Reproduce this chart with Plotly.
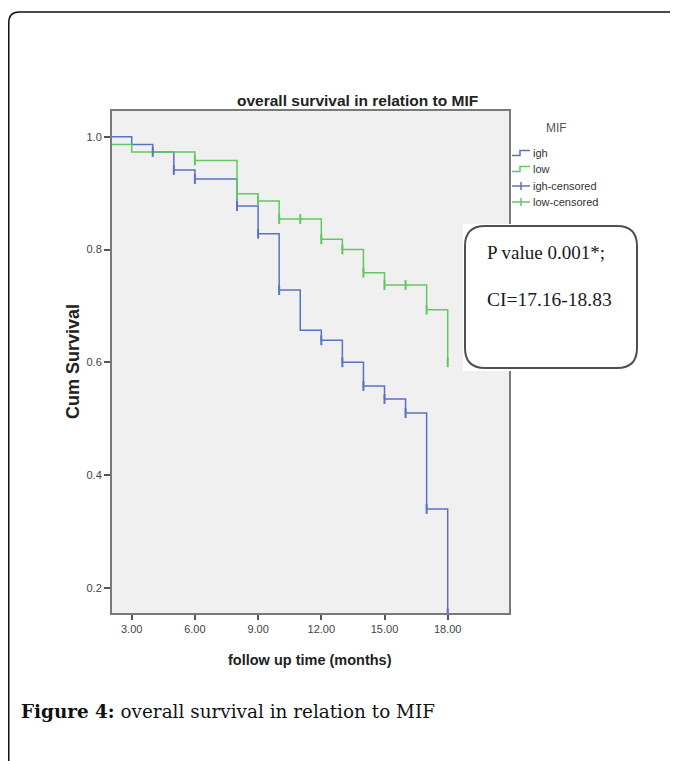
import plotly.graph_objects as go

# ---- data ----
high_time = [2.0, 3, 4, 5, 6, 8, 9, 10, 11, 12, 13, 14, 15, 16, 17, 18]
high_surv = [1.0, 0.986, 0.973, 0.941, 0.925, 0.877, 0.828, 0.728, 0.657, 0.639, 0.600, 0.558, 0.535, 0.510, 0.340, 0.155]
high_cens_time = [4, 5, 6, 8, 9, 10, 12, 13, 14, 15, 16, 17, 18]
high_cens_surv = [0.973, 0.941, 0.925, 0.877, 0.828, 0.728, 0.639, 0.600, 0.558, 0.535, 0.510, 0.340, 0.155]

low_time = [2.0, 3, 6, 8, 9, 10, 12, 13, 14, 15, 17, 18]
low_surv = [0.986, 0.973, 0.958, 0.899, 0.886, 0.854, 0.818, 0.800, 0.759, 0.737, 0.693, 0.600]
low_cens_time = [6, 8, 9, 10, 11, 12, 13, 14, 15, 16, 17, 18]
low_cens_surv = [0.958, 0.899, 0.886, 0.854, 0.854, 0.818, 0.800, 0.759, 0.737, 0.737, 0.693, 0.600]

x_ticks = [3, 6, 9, 12, 15, 18]
y_ticks = [0.2, 0.4, 0.6, 0.8, 1.0]
legend_labels = ["igh", "low", "igh-censored", "low-censored"]

BLUE = "#5b72c2"
GREEN = "#62c862"

OFF = 8  # page body margin
W, H = 678 - OFF, 761 - OFF
# plot area in page pixels
PL, PR, PT, PB = 112, 509, 111, 613


def px(x):
    return (x - PL) / (PR - PL)


def py(y):
    return (PB - y) / (PB - PT)


fig = go.Figure()
fig.add_trace(go.Scatter(x=high_time, y=high_surv, mode="lines", line=dict(shape="hv", color=BLUE, width=1.5),
                         showlegend=False, name="igh"))
fig.add_trace(go.Scatter(x=low_time, y=low_surv, mode="lines", line=dict(shape="hv", color=GREEN, width=1.5),
                         showlegend=False, name="low"))
fig.add_trace(go.Scatter(x=high_cens_time, y=high_cens_surv, mode="markers",
                         marker=dict(symbol="line-ns", size=7, line=dict(color=BLUE, width=2)),
                         showlegend=False, name="igh-censored"))
fig.add_trace(go.Scatter(x=low_cens_time, y=low_cens_surv, mode="markers",
                         marker=dict(symbol="line-ns", size=7, line=dict(color=GREEN, width=2)),
                         showlegend=False, name="low-censored"))

SANS = "Liberation Sans, Arial, sans-serif"
SERIF = "Liberation Serif, Times New Roman, serif"
CAP_SERIF = "DejaVu Serif, Liberation Serif, serif"

shapes = []
# outer frame (rounded top-left corner)
shapes.append(dict(type="path", xref="paper", yref="paper", layer="above",
                   path=f"M {px(8.75)},{py(770)} L {px(8.75)},{py(23)} Q {px(8.75)},{py(12)} {px(19)},{py(12)} L {px(690)},{py(12)}",
                   line=dict(color="#111111", width=1.5)))
# white patch behind the p-value box
shapes.append(dict(type="rect", xref="paper", yref="paper", layer="above",
                   x0=px(463), x1=px(640), y0=py(371), y1=py(224),
                   fillcolor="white", line=dict(width=0)))
# rounded p-value box
x0, x1, y0, y1, r = 465, 637, 226, 368, 20
shapes.append(dict(type="path", xref="paper", yref="paper", layer="above",
                   path=(f"M {px(x0+r)},{py(y0)} L {px(x1-r)},{py(y0)} Q {px(x1)},{py(y0)} {px(x1)},{py(y0+r)} "
                         f"L {px(x1)},{py(y1-r)} Q {px(x1)},{py(y1)} {px(x1-r)},{py(y1)} "
                         f"L {px(x0+r)},{py(y1)} Q {px(x0)},{py(y1)} {px(x0)},{py(y1-r)} "
                         f"L {px(x0)},{py(y0+r)} Q {px(x0)},{py(y0)} {px(x0+r)},{py(y0)} Z"),
                   fillcolor="white", line=dict(color="#505050", width=2)))

# manual legend icons
leg_y = [153, 169, 186, 202]
leg_col = [BLUE, GREEN, BLUE, GREEN]
for i in range(2):
    yy = leg_y[i]
    shapes.append(dict(type="path", xref="paper", yref="paper", layer="above",
                       path=f"M {px(512)},{py(yy+2.5)} L {px(520)},{py(yy+2.5)} L {px(520)},{py(yy-2.5)} L {px(530)},{py(yy-2.5)}",
                       line=dict(color=leg_col[i], width=1.5)))
for i in range(2, 4):
    yy = leg_y[i]
    shapes.append(dict(type="line", xref="paper", yref="paper", layer="above",
                       x0=px(512), x1=px(530), y0=py(yy), y1=py(yy), line=dict(color=leg_col[i], width=1.5)))
    shapes.append(dict(type="line", xref="paper", yref="paper", layer="above",
                       x0=px(521), x1=px(521), y0=py(yy - 4), y1=py(yy + 4), line=dict(color=leg_col[i], width=1.5)))

annotations = []
annotations.append(dict(text="<b>overall survival in relation to MIF</b>", xref="paper", yref="paper",
                        x=px(357), y=py(100), showarrow=False, xanchor="center", yanchor="middle",
                        font=dict(family=SANS, size=15.5, color="#222222")))
annotations.append(dict(text="<b>Cum Survival</b>", xref="paper", yref="paper", textangle=-90,
                        x=px(73), y=py(362), showarrow=False, xanchor="center", yanchor="middle",
                        font=dict(family=SANS, size=18, color="#222222")))
annotations.append(dict(text="<b>follow up time (months)</b>", xref="paper", yref="paper",
                        x=px(310), y=py(660), showarrow=False, xanchor="center", yanchor="middle",
                        font=dict(family=SANS, size=14.5, color="#222222")))
annotations.append(dict(text="MIF", xref="paper", yref="paper",
                        x=px(556), y=py(128), showarrow=False, xanchor="center", yanchor="middle",
                        font=dict(family=SANS, size=12, color="#555555")))
for lab, yy in zip(legend_labels, leg_y):
    annotations.append(dict(text=lab, xref="paper", yref="paper",
                            x=px(531), y=py(yy), showarrow=False, xanchor="left", yanchor="middle",
                            font=dict(family=SANS, size=11, color="#333333")))
annotations.append(dict(text="P value 0.001*;", xref="paper", yref="paper",
                        x=px(485), y=py(253), showarrow=False, xanchor="left", yanchor="middle",
                        font=dict(family=SERIF, size=19, color="#1a1a1a")))
annotations.append(dict(text="CI=17.16-18.83", xref="paper", yref="paper",
                        x=px(485), y=py(299), showarrow=False, xanchor="left", yanchor="middle",
                        font=dict(family=SERIF, size=19.5, color="#1a1a1a")))
annotations.append(dict(text="<b>Figure 4:</b> overall survival in relation to MIF", xref="paper", yref="paper",
                        x=px(19), y=py(711), showarrow=False, xanchor="left", yanchor="middle",
                        font=dict(family=CAP_SERIF, size=18.4, color="#111111")))

fig.update_layout(
    width=W, height=H,
    margin=dict(l=PL - OFF, r=W - (PR - OFF), t=PT - OFF, b=H - (PB - OFF), pad=0),
    paper_bgcolor="white",
    plot_bgcolor="#f0f0f0",
    showlegend=False,
    shapes=shapes,
    annotations=annotations,
    xaxis=dict(range=[2.065, 20.91], tickvals=x_ticks, ticktext=[f"{v:.2f}" for v in x_ticks],
               showgrid=False, zeroline=False, showline=True, mirror=True, linecolor="#7a7a7a", linewidth=2,
               ticks="outside", ticklen=5, tickwidth=1.5, tickcolor="#555555",
               tickfont=dict(family=SANS, size=11, color="#444444")),
    yaxis=dict(range=[0.1555, 1.0456], tickvals=y_ticks, ticktext=[f"{v:.1f}" for v in y_ticks],
               showgrid=False, zeroline=False, showline=True, mirror=True, linecolor="#7a7a7a", linewidth=2,
               ticks="outside", ticklen=6, tickwidth=1.5, tickcolor="#555555",
               tickfont=dict(family=SANS, size=11, color="#444444")),
)

fig.write_html("out.html")
